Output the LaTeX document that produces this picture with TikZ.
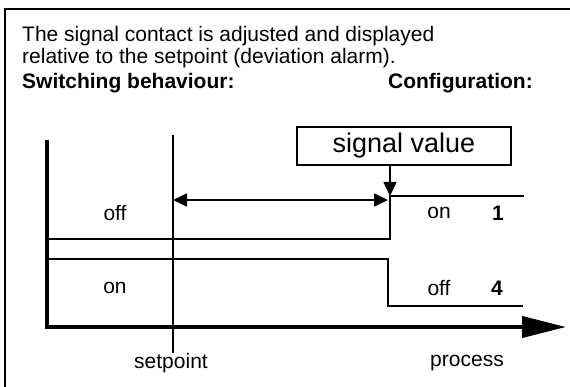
\documentclass[tikz,border=0pt]{standalone}
\usepackage{fontspec}
\setmainfont{Liberation Sans}
\usetikzlibrary{arrows.meta}
\begin{document}
\begin{tikzpicture}[x=1pt,y=-1pt,
  txt/.style={inner sep=0pt,font=\fontsize{21}{23}\selectfont},
  btxt/.style={inner sep=0pt,font=\fontsize{21}{23}\selectfont\bfseries},
  thin/.style={line width=1.6pt},
  axis/.style={line width=4pt},
  tip/.style={-{Triangle[length=14pt,width=13pt]}},
  dtip/.style={{Triangle[length=14pt,width=13pt]}-{Triangle[length=14pt,width=13pt]}}
]
\useasboundingbox (0,0) rectangle (570,387);
% frame (cropped)
\coordinate (fa) at (5,400);
\coordinate (fb) at (5,9);
\coordinate (fc) at (580,9);
\draw[line width=2pt] (fa) -- (fb) -- (fc);
% header
\node[txt,anchor=base west] (h1) at (22,42) {The signal contact is adjusted and displayed};
\node[txt,anchor=base west] (h2) at (22,64) {relative to the setpoint (deviation alarm).};
\node[btxt,anchor=base west] (h3) at (22,89) {Switching behaviour:};
\node[btxt,anchor=base east] (h4) at (533,89) {Configuration:};
% axes
\coordinate (o) at (47,327);
\coordinate (ytop) at (47,140);
\coordinate (xend) at (566,327);
\draw[axis] (ytop) -- (47,329);
\draw[axis,-{Triangle[length=44pt,width=21pt]}] (45,327) -- (xend);
% setpoint line
\coordinate (sptop) at (173,135);
\coordinate (spbot) at (173,353);
\draw[thin] (sptop) -- (spbot);
% signal value box
\node[draw,thin,minimum width=214pt,minimum height=38pt,inner sep=0pt,
      font=\fontsize{27}{30}\selectfont] (sv) at (404,146) {signal value};
% upper step
\coordinate (u0) at (47,239);
\coordinate (u1) at (390,239);
\coordinate (u2) at (390,196);
\coordinate (u3) at (524,196);
\draw[thin] (u0) -- (u1) -- (u2) -- (u3);
% lower step
\coordinate (l0) at (47,259);
\coordinate (l1) at (388,259);
\coordinate (l2) at (388,306);
\coordinate (l3) at (523,306);
\draw[thin] (l0) -- (l1) -- (l2) -- (l3);
% signal arrow
\draw[thin,tip] (sv.south -| u2) -- (u2);
% deviation arrow
\coordinate (da) at (173,200);
\coordinate (db) at (388,200);
\draw[thin,dtip] (da) -- (db);
% labels
\node[txt] (off1) at (115,213) {off};
\node[txt] (on1) at (439,213) {on};
\node[btxt] (c1) at (498,213) {1};
\node[txt] (on2) at (115,288) {on};
\node[txt] (off2) at (439,288) {off};
\node[btxt] (c4) at (497,288) {4};
\node[txt] (spl) at (171,363) {setpoint};
\node[txt] (prl) at (467,363) {process};
\end{tikzpicture}
\end{document}
